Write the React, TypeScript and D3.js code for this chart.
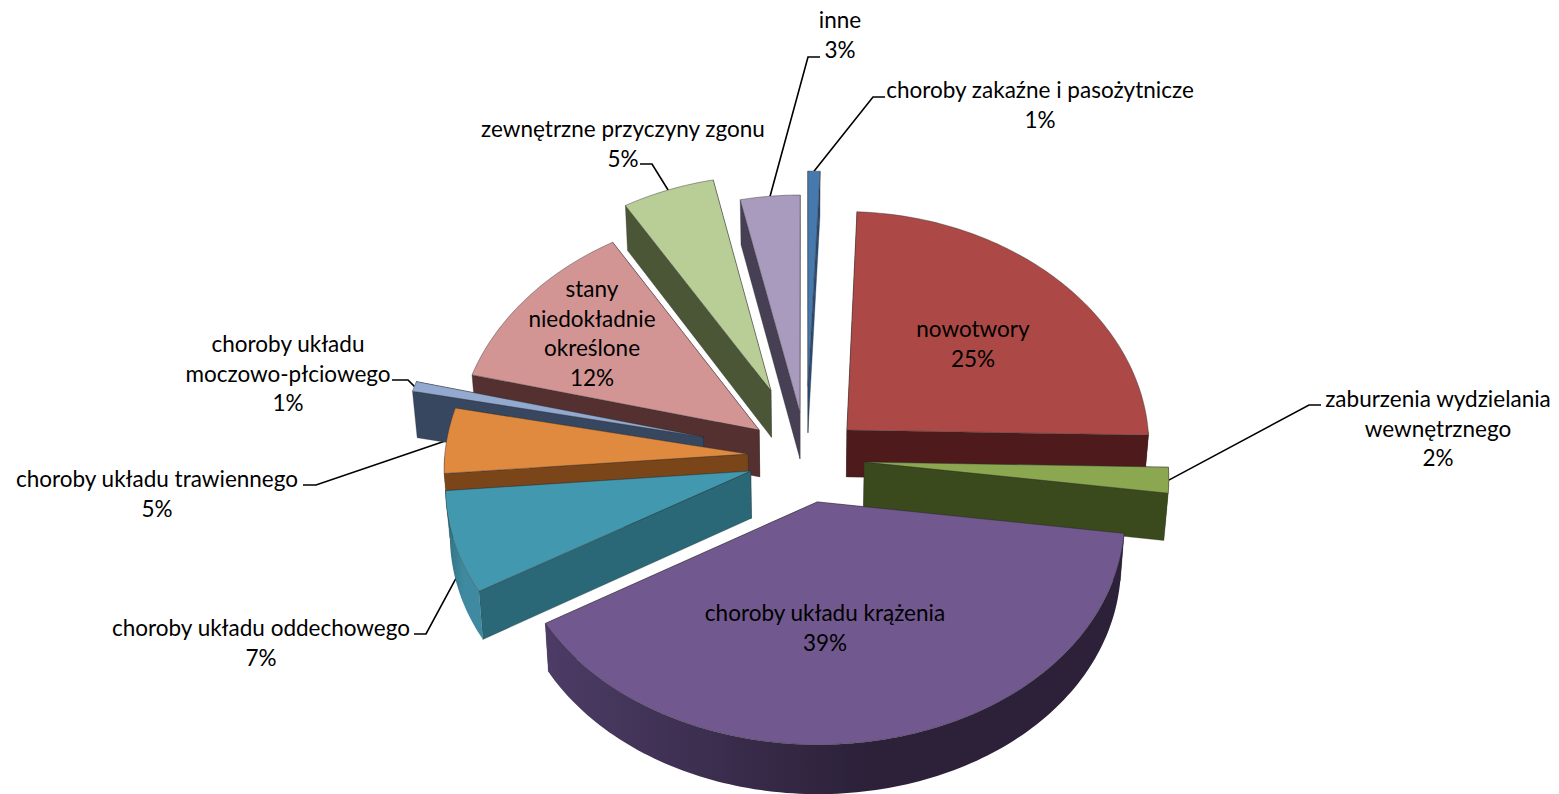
import { useMemo } from 'react';
import * as d3 from 'd3';

const WIDTH = 1559;
const HEIGHT = 794;

const categories = [
  'choroby zakaźne i pasożytnicze',
  'nowotwory',
  'zaburzenia wydzielania wewnętrznego',
  'choroby układu krążenia',
  'choroby układu oddechowego',
  'choroby układu trawiennego',
  'choroby układu moczowo-płciowego',
  'stany niedokładnie określone',
  'zewnętrzne przyczyny zgonu',
  'inne',
];
const shares = [0.7, 24.7, 1.8, 39.4, 7.2, 4.6, 0.7, 12.4, 5.3, 3.4];

const topColors = ['#4679AE', '#AC4845', '#8BA750', '#71588F', '#4198AF', '#E08A40', '#93A9CF', '#D39594', '#B9CD96', '#A99BBD'];
const wallColors = ['#2B4D78', '#4F1A1B', '#3A4A1C', '#3D2F55', '#2A6878', '#7A4619', '#374760', '#553030', '#4A5636', '#474055'];
const arcWallColors = [
  ['#2B4D78', '#2B4D78'],
  ['#4F1A1B', '#4F1A1B'],
  ['#3A4A1C', '#3A4A1C'],
  ['#4C3C66', '#2C2139'],
  ['#2F6F82', '#3F8AA0'],
  ['#7A4619', '#7A4619'],
  ['#374760', '#374760'],
  ['#553030', '#553030'],
  ['#4A5636', '#4A5636'],
  ['#474055', '#474055'],
];

// how far each slice is pulled out of the pie, in pie radii (across, towards the viewer)
const explodeU = [0.01, 0.139, 0.195, 0.04, -0.178, -0.188, -0.337, -0.152, -0.114, -0.017];
const explodeV = [-0.29, -0.096, 0.044, 0.216, 0.083, 0.009, -0.066, -0.096, -0.27, -0.175];

// text lines of each label (the percent line is added from the value)
const labelLines = [
  ['choroby zakaźne i pasożytnicze'],
  ['nowotwory'],
  ['zaburzenia wydzielania', 'wewnętrznego'],
  ['choroby układu krążenia'],
  ['choroby układu oddechowego'],
  ['choroby układu trawiennego'],
  ['choroby układu', 'moczowo-płciowego'],
  ['stany', 'niedokładnie', 'określone'],
  ['zewnętrzne przyczyny zgonu'],
  ['inne'],
];
const labelX = [1040, 973, 1438, 825, 261, 157, 288, 592, 623, 840];
const labelY = [98, 337, 407, 621, 636, 487, 352, 297, 137, 28];

// leader lines: stub end, elbow, and how deep on the outer wall they land (null: no leader)
const leaderStub: ([number, number] | null)[] = [[885, 97], null, [1321, 405], null, [414, 634], [303, 485], [392, 380], null, [640, 164], [820, 57]];
const leaderElbow: ([number, number] | null)[] = [[873, 97], null, [1309, 405], null, [426, 634], [316, 485], [408, 380], null, [652, 164], [808, 57]];
const leaderDepth = [0, 0, 0, 0, 0.7, 0, 0, 0, 0, 0];

const CX = 805;
const CY = 452;
const RX = 303;
const RY = 229;
const THICK = 47;
const PERSPECTIVE_X = 0.06;
const PERSPECTIVE_Y = 0.04;
const TAPER = 0.988;
const FONT_SIZE = 22.5;
const LINE_H = 29.5;

const xScale = d3.scaleLinear().domain([0, 1]).range([CX, CX + RX]);
const yScale = d3.scaleLinear().domain([0, 1]).range([CY, CY + RY]);

// ground point (u across, v towards viewer), z=0 top face, z=1 bottom
function project(u: number, v: number, z: number): [number, number] {
  const dx = 1 / (1 - PERSPECTIVE_X * v);
  const dy = 1 / (1 - PERSPECTIVE_Y * v);
  const x = xScale(u * dx);
  return [CX + (x - CX) * (1 - z * (1 - TAPER)), yScale(v * dy) + z * THICK * dy];
}

const polyPath = d3.line().curve(d3.curveLinearClosed);

export default function App() {
  const slices = useMemo(() => {
    const pie = d3.pie<number>().sort(null).startAngle(0).endAngle(Math.PI * 2);
    return pie(shares)
      .map((arc, i) => {
        const ou = explodeU[i];
        const ov = explodeV[i];
        const at = (a: number, z: number) => project(ou + Math.sin(a), ov - Math.cos(a), z);
        const apex = (z: number) => project(ou, ov, z);
        const steps = Math.max(4, Math.ceil((arc.endAngle - arc.startAngle) / 0.02));
        const angles = d3.range(steps + 1).map((k) => arc.startAngle + ((arc.endAngle - arc.startAngle) * k) / steps);
        const top = polyPath([apex(0), ...angles.map((a) => at(a, 0))]) ?? '';
        // the wall nearer the viewer is painted last
        const radial = [arc.startAngle, arc.endAngle]
          .sort((a, b) => d3.descending(Math.cos(a), Math.cos(b)))
          .map((a) => polyPath([apex(0), at(a, 0), at(a, 1), apex(1)]) ?? '');
        // only the front half of the rim can be seen
        const front = angles.filter((a) => a >= Math.PI / 2 && a <= (Math.PI * 3) / 2);
        const rim = front.length > 1
          ? polyPath([...front.map((a) => at(a, 0)), ...[...front].reverse().map((a) => at(a, 1))]) ?? ''
          : '';
        const rimX = front.length > 1 ? [at(front[0], 0)[0], at(front[front.length - 1], 0)[0]] : [0, 0];
        const mid = (arc.startAngle + arc.endAngle) / 2;
        const order = ov - Math.cos(mid) * 0.6;
        const stub = leaderStub[i];
        const elbow = leaderElbow[i];
        const leader = stub && elbow ? d3.line()([stub, elbow, at(mid, leaderDepth[i])]) ?? '' : '';
        return { i, top, radial, rim, rimX, order, leader };
      })
      .sort((a, b) => d3.ascending(a.order, b.order));
  }, []);

  return (
    <svg
      width={WIDTH}
      height={HEIGHT}
      viewBox={`0 0 ${WIDTH} ${HEIGHT}`}
      style={{ position: 'absolute', left: 0, top: 0, background: '#fff' }}
    >
      <defs>
        {slices.map((s) => (
          <linearGradient
            key={s.i}
            id={`rim-${s.i}`}
            gradientUnits="userSpaceOnUse"
            x1={Math.min(s.rimX[0], s.rimX[1])}
            x2={Math.max(s.rimX[0], s.rimX[1])}
            y1={0}
            y2={0}
          >
            <stop offset="0%" stopColor={arcWallColors[s.i][0]} />
            <stop offset="55%" stopColor={arcWallColors[s.i][1]} />
            <stop offset="100%" stopColor={arcWallColors[s.i][1]} />
          </linearGradient>
        ))}
      </defs>

      {/* Leaders go under the slices so they stop at the rim */}
      {slices.map((s) =>
        s.leader ? <path key={s.i} d={s.leader} fill="none" stroke="#000" strokeWidth={1.6} /> : null
      )}

      {slices.map((s) => (
        <g key={s.i} strokeLinejoin="round">
          {s.radial.map((d, k) => (
            <path key={k} d={d} fill={wallColors[s.i]} stroke="#2a2a2a" strokeOpacity={0.45} strokeWidth={0.7} />
          ))}
          {s.rim && <path d={s.rim} fill={`url(#rim-${s.i})`} />}
          <path d={s.top} fill={topColors[s.i]} stroke="#333" strokeOpacity={0.55} strokeWidth={0.8} />
        </g>
      ))}

      {/* Labels */}
      <g fontFamily="Lato, sans-serif" fontSize={FONT_SIZE} fill="#000" textAnchor="middle">
        {categories.map((c, i) => (
          <text key={c} x={labelX[i]} y={labelY[i]}>
            {[...labelLines[i], `${d3.format('.0f')(shares[i])}%`].map((line, k) => (
              <tspan key={k} x={labelX[i]} y={labelY[i] + k * LINE_H}>
                {line}
              </tspan>
            ))}
          </text>
        ))}
      </g>
    </svg>
  );
}
